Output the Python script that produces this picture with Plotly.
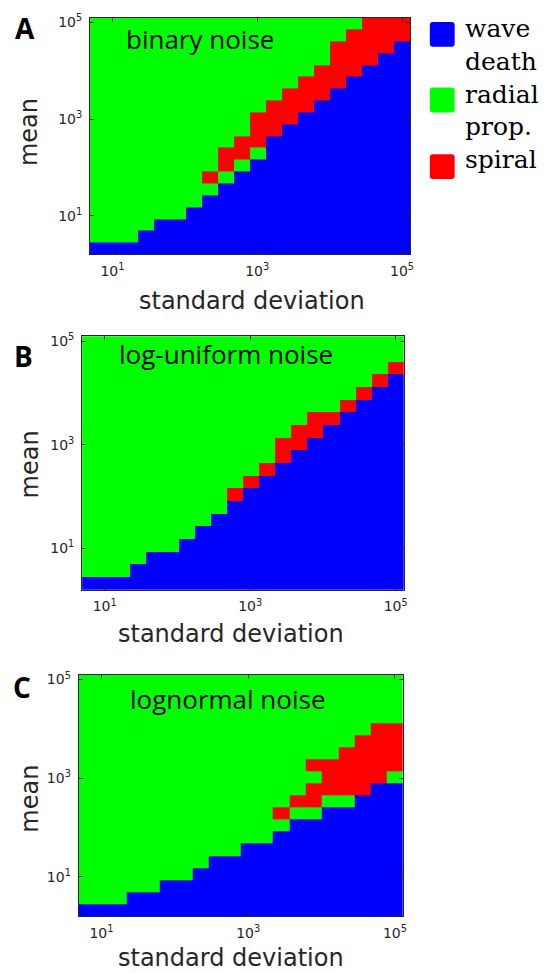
import plotly.graph_objects as go

W, H = 548, 973

# log10 of grid values (cell centres)
std_exp = [0.80, 1.02, 1.24, 1.46, 1.68, 1.91, 2.13, 2.35, 2.57, 2.79,
           3.01, 3.23, 3.45, 3.67, 3.89, 4.12, 4.34, 4.56, 4.78, 5.00]
mean_exp = [0.32, 0.57, 0.81, 1.06, 1.30, 1.55, 1.79, 2.04, 2.28, 2.53,
            2.77, 3.02, 3.26, 3.51, 3.75, 4.00, 4.24, 4.49, 4.73, 4.98]

tick_vals = [1, 3, 5]
tick_text = ["10<sup>1</sup>", "10<sup>3</sup>", "10<sup>5</sup>"]

# phase maps, rows listed from top (highest mean) to bottom
# B = wave death, G = radial prop., R = spiral
binary_rows = [
    "GGGGGGGGGGGGGGGGGRRR",
    "GGGGGGGGGGGGGGGGRRRR",
    "GGGGGGGGGGGGGGGRRRRB",
    "GGGGGGGGGGGGGGGRRRBB",
    "GGGGGGGGGGGGGGRRRBBB",
    "GGGGGGGGGGGGGRRRBBBB",
    "GGGGGGGGGGGGRRRBBBBB",
    "GGGGGGGGGGGRRRBBBBBB",
    "GGGGGGGGGGRRRBBBBBBB",
    "GGGGGGGGGGRRBBBBBBBB",
    "GGGGGGGGGRRBBBBBBBBB",
    "GGGGGGGGRRGBBBBBBBBB",
    "GGGGGGGGRGBBBBBBBBBB",
    "GGGGGGGRGBBBBBBBBBBB",
    "GGGGGGGGBBBBBBBBBBBB",
    "GGGGGGGBBBBBBBBBBBBB",
    "GGGGGGBBBBBBBBBBBBBB",
    "GGGGBBBBBBBBBBBBBBBB",
    "GGGBBBBBBBBBBBBBBBBB",
    "BBBBBBBBBBBBBBBBBBBB",
]
loguniform_rows = [
    "GGGGGGGGGGGGGGGGGGGG",
    "GGGGGGGGGGGGGGGGGGGG",
    "GGGGGGGGGGGGGGGGGGGR",
    "GGGGGGGGGGGGGGGGGGRB",
    "GGGGGGGGGGGGGGGGGRBB",
    "GGGGGGGGGGGGGGGGRBBB",
    "GGGGGGGGGGGGGGRRBBBB",
    "GGGGGGGGGGGGGRRBBBBB",
    "GGGGGGGGGGGGRRBBBBBB",
    "GGGGGGGGGGGGRBBBBBBB",
    "GGGGGGGGGGGRBBBBBBBB",
    "GGGGGGGGGGRBBBBBBBBB",
    "GGGGGGGGGRBBBBBBBBBB",
    "GGGGGGGGGBBBBBBBBBBB",
    "GGGGGGGGBBBBBBBBBBBB",
    "GGGGGGGBBBBBBBBBBBBB",
    "GGGGGGBBBBBBBBBBBBBB",
    "GGGGBBBBBBBBBBBBBBBB",
    "GGGBBBBBBBBBBBBBBBBB",
    "BBBBBBBBBBBBBBBBBBBB",
]
lognormal_rows = [
    "GGGGGGGGGGGGGGGGGGGG",
    "GGGGGGGGGGGGGGGGGGGG",
    "GGGGGGGGGGGGGGGGGGGG",
    "GGGGGGGGGGGGGGGGGGGG",
    "GGGGGGGGGGGGGGGGGGRR",
    "GGGGGGGGGGGGGGGGGRRR",
    "GGGGGGGGGGGGGGGGRRRR",
    "GGGGGGGGGGGGGGRRRRRR",
    "GGGGGGGGGGGGGGGRRRRG",
    "GGGGGGGGGGGGGGRRRRBB",
    "GGGGGGGGGGGGGRRGGBBB",
    "GGGGGGGGGGGGRGGBBBBB",
    "GGGGGGGGGGGGGBBBBBBB",
    "GGGGGGGGGGGGBBBBBBBB",
    "GGGGGGGGGGBBBBBBBBBB",
    "GGGGGGGGBBBBBBBBBBBB",
    "GGGGGGGBBBBBBBBBBBBB",
    "GGGGGBBBBBBBBBBBBBBB",
    "GGGBBBBBBBBBBBBBBBBB",
    "BBBBBBBBBBBBBBBBBBBB",
]

panel_titles = ["binary noise", "log-uniform noise", "lognormal noise"]
panel_letters = ["A", "B", "C"]
legend_labels = [["wave", "death"], ["radial", "prop."], ["spiral"]]
phase_colors = ["#0000FF", "#00FF00", "#FF0000"]

code = {"B": 0, "G": 1, "R": 2}

SANS = "DejaVu Sans"
SERIF = "DejaVu Serif"
TITLE = "Open Sans"


def to_z(rows):
    return [[code[ch] for ch in r] for r in reversed(rows)]


def px(x):
    return x / W


def py(y):
    return 1 - y / H


# panel geometry in pixels: (left, right, top, bottom)
geom = [(90.7, 413.0, 12.7, 250.7),
        (82.7, 406.7, 333.0, 587.7),
        (79.3, 406.0, 673.0, 916.0)]

cs = [[0, phase_colors[0]], [1/3, phase_colors[0]],
      [1/3, phase_colors[1]], [2/3, phase_colors[1]],
      [2/3, phase_colors[2]], [1, phase_colors[2]]]

fig = go.Figure()
all_rows = [binary_rows, loguniform_rows, lognormal_rows]
for i, rows in enumerate(all_rows):
    sfx = "" if i == 0 else str(i + 1)
    fig.add_trace(go.Heatmap(
        x=std_exp, y=mean_exp, z=to_z(rows),
        zmin=0, zmax=2, colorscale=cs, showscale=False,
        xaxis="x" + sfx, yaxis="y" + sfx, hoverinfo="skip"))

axis_common = dict(
    tickvals=tick_vals, ticktext=tick_text, ticks="inside", ticklen=4,
    tickcolor="#262626", showline=True, mirror="ticks", linecolor="#262626",
    linewidth=1, showgrid=False, zeroline=False,
    tickfont=dict(family=SANS, size=14, color="#262626"),
)

layout = dict(width=W, height=H, margin=dict(l=0, r=0, t=0, b=0),
              paper_bgcolor="white", plot_bgcolor="white", showlegend=False)
for i, (l, r, t, b) in enumerate(geom):
    sfx = "" if i == 0 else str(i + 1)
    layout["xaxis" + sfx] = dict(axis_common, domain=[px(l), px(r)],
                                 range=[0.69, 5.11], anchor="y" + sfx,
                                 ticklabelstandoff=4)
    layout["yaxis" + sfx] = dict(axis_common, domain=[py(b), py(t)],
                                 range=[0.20, 5.10], anchor="x" + sfx,
                                 ticklabelstandoff=4)
fig.update_layout(**layout)

ann = []
title_pos = [(201, 34), (228, 351), (230, 698)]
letter_pos = [(25, 23), (24, 353), (22, 686)]
xlabel_pos = [(254, 298), (233, 632), (233, 958)]
ylabel_pos = [(30, 128), (30, 462), (30, 798)]
for i in range(3):
    ann.append(dict(text=panel_titles[i], x=px(title_pos[i][0]), y=py(title_pos[i][1]),
                    xref="paper", yref="paper", showarrow=False,
                    xanchor="center", yanchor="middle",
                    font=dict(family=TITLE, size=26, color="black")))
    ann.append(dict(text="<b>" + panel_letters[i] + "</b>", x=px(letter_pos[i][0]),
                    y=py(letter_pos[i][1]), xref="paper", yref="paper", showarrow=False,
                    xanchor="center", yanchor="middle",
                    font=dict(family=TITLE, size=28, color="black")))
    ann.append(dict(text="standard deviation", x=px(xlabel_pos[i][0]), y=py(xlabel_pos[i][1]),
                    xref="paper", yref="paper", showarrow=False,
                    xanchor="center", yanchor="middle",
                    font=dict(family=SANS, size=24, color="#262626")))
    ann.append(dict(text="mean", x=px(ylabel_pos[i][0]), y=py(ylabel_pos[i][1]),
                    xref="paper", yref="paper", showarrow=False, textangle=-90,
                    xanchor="center", yanchor="middle",
                    font=dict(family=SANS, size=24, color="#262626")))

# legend (drawn manually: large rounded swatches + serif labels)
sw_top = [17, 83, 150]
text_mid = [[24, 57], [90, 122], [155]]
shapes = []
rad = 3
for k in range(3):
    x0, x1 = 433, 458
    y0, y1 = sw_top[k], sw_top[k] + 25
    path = (f"M {px(x0+rad)},{py(y0)} L {px(x1-rad)},{py(y0)} Q {px(x1)},{py(y0)} {px(x1)},{py(y0+rad)} "
            f"L {px(x1)},{py(y1-rad)} Q {px(x1)},{py(y1)} {px(x1-rad)},{py(y1)} "
            f"L {px(x0+rad)},{py(y1)} Q {px(x0)},{py(y1)} {px(x0)},{py(y1-rad)} "
            f"L {px(x0)},{py(y0+rad)} Q {px(x0)},{py(y0)} {px(x0+rad)},{py(y0)} Z")
    shapes.append(dict(type="path", xref="paper", yref="paper", path=path,
                       fillcolor=phase_colors[k], line=dict(width=0)))
    for j, line in enumerate(legend_labels[k]):
        ann.append(dict(text=line, x=px(466), y=py(text_mid[k][j]),
                        xref="paper", yref="paper", showarrow=False,
                        xanchor="left", yanchor="middle",
                        font=dict(family=SERIF, size=25, color="black")))

fig.update_layout(annotations=ann, shapes=shapes)
fig.write_html("out.html")
